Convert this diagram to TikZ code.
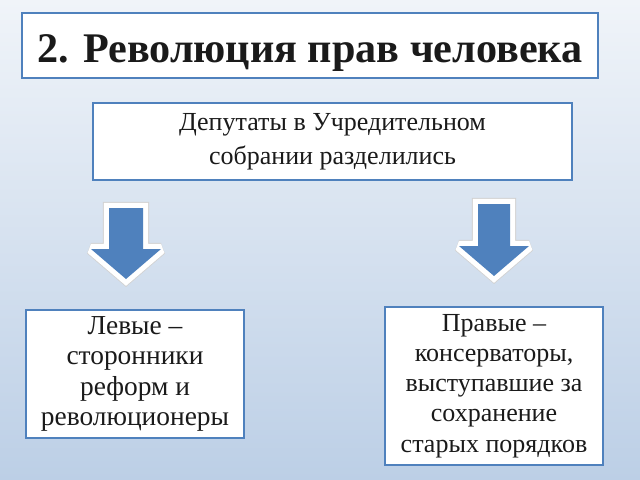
\documentclass[tikz,border=0pt]{standalone}
\usepackage{fontspec}
\setmainfont{Liberation Serif}
\definecolor{boxblue}{HTML}{4F81BD}
\definecolor{bgtop}{HTML}{F0F4F9}
\definecolor{bgmid}{HTML}{CAD8EB}
\definecolor{bgbot}{HTML}{BCCFE6}
\definecolor{ink}{HTML}{1A1A1A}
\tikzset{
  slidebox/.style={draw=boxblue, line width=1.4pt, fill=white, align=center,
    text=ink, inner sep=2pt},
  arrowshadow/.style={draw=gray!35, line width=8.6pt, line join=miter, miter limit=2},
  arrowrim/.style={draw=white, line width=7.4pt, line join=miter, miter limit=2},
  arrowbody/.style={fill=boxblue},
}
\begin{document}
\begin{tikzpicture}[x=0.025cm,y=-0.025cm]
\shade[top color=bgtop, middle color=bgmid, bottom color=bgbot] (0,0) rectangle (640,480);
\useasboundingbox (0,0) rectangle (640,480);

\node[slidebox, minimum width=14.4cm, minimum height=1.625cm,
  text height=24pt, text depth=0pt,
  font=\fontsize{30}{34}\selectfont\bfseries] (title) at (310,45.5)
  {2. Революция прав человека};

\node[slidebox, minimum width=11.975cm, minimum height=1.925cm,
  font=\fontsize{18.5}{24.5}\selectfont] (split) at (332.5,141.5)
  {Депутаты в Учредительном\\собрании разделились};

\node[slidebox, minimum width=5.45cm, minimum height=3.2cm,
  font=\fontsize{19.5}{21.7}\selectfont] (left) at (135,374)
  {Левые --\\сторонники\\реформ и\\революционеры};

\node[slidebox, minimum width=5.45cm, minimum height=3.95cm,
  font=\fontsize{18.5}{21.5}\selectfont] (right) at (494,386)
  {Правые --\\консерваторы,\\выступавшие за\\сохранение\\старых порядков};

% block arrows
\foreach \s in {arrowshadow,arrowrim,arrowbody}
  \path[\s] (109,208) -- (143,208) -- (143,249) -- (161,249) -- (126,279)
    -- (91,249) -- (109,249) -- cycle;

\foreach \s in {arrowshadow,arrowrim,arrowbody}
  \path[\s] (478,204) -- (510,204) -- (510,246) -- (529,246) -- (494,276)
    -- (459,246) -- (478,246) -- cycle;
\end{tikzpicture}
\end{document}
